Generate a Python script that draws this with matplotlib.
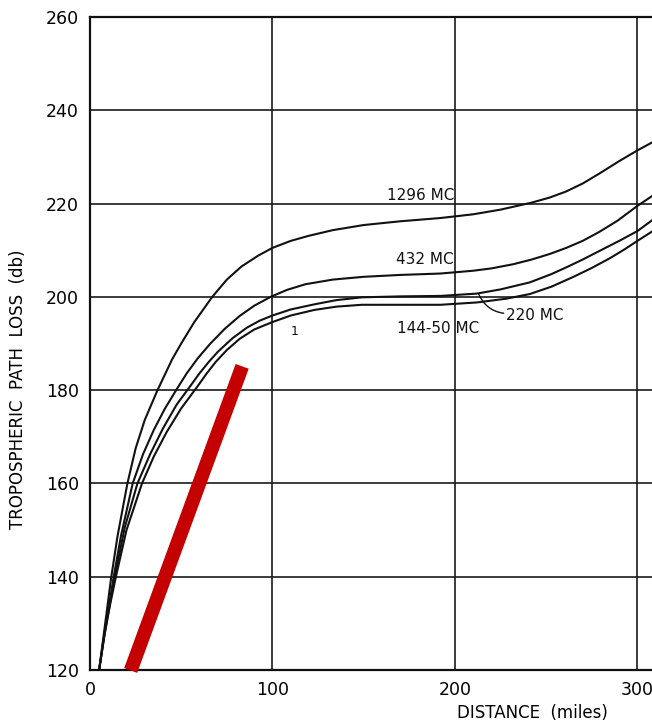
import matplotlib
matplotlib.use("Agg")
import matplotlib.pyplot as plt

# distance (miles) / path loss (db)
x_1296 = [5, 8, 11.5, 15, 20.5, 25, 30, 37, 45, 50, 57, 67, 75, 83, 92, 100, 110, 120, 133,
          150, 170, 192, 210, 225, 242, 252, 261, 270, 279, 290, 300, 308]
y_1296 = [120, 129, 139.5, 148.5, 160, 167.5, 173.6, 180, 186.6, 190, 194.5, 200, 203.7, 206.5,
          208.8, 210.5, 212, 213.1, 214.3, 215.4, 216.2, 216.9, 217.7, 218.7, 220.2, 221.3,
          222.6, 224.3, 226.4, 229.1, 231.4, 233.1]

x_432 = [5, 8, 10.5, 13, 17, 23.4, 29, 35, 41, 48, 53, 59, 66, 74, 82, 90, 99, 108, 118, 133,
         150, 170, 192, 210, 220, 232, 242, 252, 261, 270, 279, 289, 300, 308]
y_432 = [120, 128, 134, 140, 148.8, 160, 166.2, 171.5, 176, 180.5, 183.6, 186.8, 190, 193.2,
         195.9, 198.1, 200, 201.5, 202.7, 203.7, 204.3, 204.7, 205.0, 205.6, 206.1, 207, 208,
         209.2, 210.5, 212, 213.9, 216.3, 219.5, 221.6]

x_220 = [5, 8, 10.8, 13.6, 19, 26, 33, 40, 47.5, 55.2, 60, 65.2, 70, 78, 86, 93, 100, 110, 123,
         135, 149, 170, 192, 212, 225, 241, 253, 262, 270, 280, 290, 300, 308]
y_220 = [120, 127.8, 134, 140, 150.5, 160, 166.3, 171.8, 176.9, 181, 183.6, 186.1, 188.2,
         191.1, 193.4, 194.9, 196, 197.3, 198.4, 199.3, 199.9, 200.1, 200.2, 200.7, 201.6,
         203.1, 204.9, 206.5, 208, 210, 212, 214.1, 216.4]

x_144 = [5, 8, 11, 14.2, 20, 28.5, 35, 42, 50, 58.9, 64, 69, 75, 82, 90, 100, 110, 123, 135,
         149, 170, 192, 212, 228, 241, 253, 265, 275, 285, 293, 300, 308]
y_144 = [120, 127.6, 134, 140, 150, 160, 165.8, 171, 176.1, 180.8, 183.6, 186.1, 188.6, 191,
         193, 194.6, 196, 197.2, 197.9, 198.3, 198.3, 198.3, 198.8, 199.6, 200.6, 202.2, 204.3,
         206.2, 208.3, 210.2, 212, 214]

red_x = [22.3, 83.4]
red_y = [119.9, 185.1]

x_ticks = [0, 100, 200, 300]
y_ticks = [120, 140, 160, 180, 200, 220, 240, 260]

fig = plt.figure(figsize=(6.52, 7.26), dpi=100)
ax = fig.add_axes([90 / 652, 56 / 726, 562 / 652, 653 / 726])

ax.set_xlim(0, 308)
ax.set_ylim(120, 260)
ax.set_xticks(x_ticks)
ax.set_yticks(y_ticks)
ax.tick_params(length=0, labelsize=12.5, pad=8)
ax.grid(True, color="#1a1a1a", lw=1.2)
ax.set_axisbelow(True)
for side in ["left", "top", "bottom"]:
    ax.spines[side].set_linewidth(1.6)
    ax.spines[side].set_color("#111111")
ax.spines["right"].set_visible(False)

curves = [(x_1296, y_1296), (x_432, y_432), (x_220, y_220), (x_144, y_144)]
for xs, ys in curves:
    ax.plot(xs, ys, color="#111111", lw=1.5, zorder=3)

ax.plot(red_x, red_y, color="#c40000", lw=10, solid_capstyle="butt",
        clip_on=False, zorder=5)

lab = dict(fontsize=11, ha="center", va="center", color="#111111")
ax.text(181.5, 221.7, "1296 MC", **lab)
ax.text(183.4, 208, "432 MC", **lab)
ax.text(191, 193.3, "144-50 MC", **lab)
ax.annotate("220 MC", xy=(213, 200.6), xytext=(244, 196.1), ha="center", va="center",
            fontsize=11, color="#111111",
            arrowprops=dict(arrowstyle="-", lw=1, color="#111111", relpos=(0, 0.6),
                            connectionstyle="arc3,rad=-0.3", shrinkA=0, shrinkB=0))
ax.text(112, 192.6, "1", fontsize=9, ha="center", va="center", color="#111111")

ax.set_ylabel("TROPOSPHERIC  PATH  LOSS  (db)", fontsize=12)
ax.yaxis.set_label_coords(-0.112, 0.43)
ax.set_xlabel("DISTANCE  (miles)", fontsize=12)
ax.xaxis.set_label_coords(0.787, -0.052)

fig.savefig("out.png", dpi=100)
